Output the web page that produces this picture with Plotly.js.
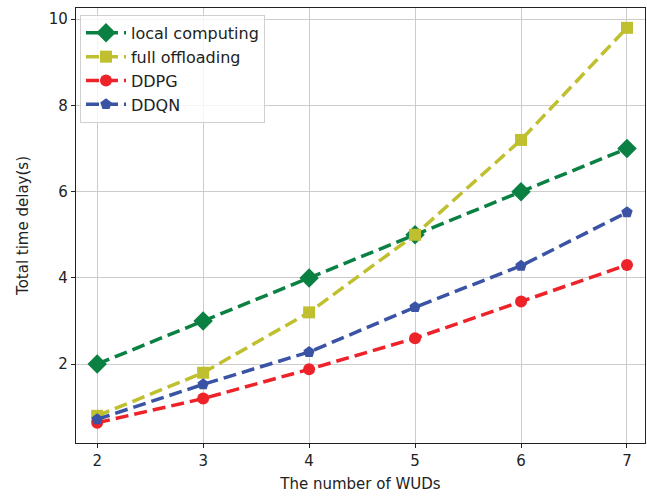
<!DOCTYPE html>
<html><head><meta charset="utf-8">
<script src="https://cdn.plot.ly/plotly-3.0.1.min.js"></script>
<style>body{margin:0;background:#fff}#c{width:647px;height:496px}</style>
</head><body><div id="c"></div>
<script>
const wuds = [2, 3, 4, 5, 6, 7];
const localComputing = [2.0, 3.0, 4.0, 5.0, 6.0, 7.0];
const fullOffloading = [0.8, 1.8, 3.2, 5.0, 7.2, 9.8];
const ddpg = [0.64, 1.2, 1.88, 2.6, 3.45, 4.3];
const ddqn = [0.72, 1.53, 2.28, 3.32, 4.28, 5.52];
const seriesNames = ['local computing', 'full offloading', 'DDPG', 'DDQN'];

function tr(y, name, color, symbol, msize) {
  return {x: wuds, y: y, name: name, mode: 'lines+markers', type: 'scatter',
    line: {color: color, width: 3.5, dash: '13px,6px'},
    marker: {color: color, symbol: symbol, size: msize}};
}
const data = [
  tr(localComputing, seriesNames[0], '#0b8043', 'diamond', 15),
  tr(fullOffloading, seriesNames[1], '#bfbf2f', 'square', 12),
  tr(ddpg, seriesNames[2], '#ee2229', 'circle', 12),
  tr(ddqn, seriesNames[3], '#3a53a4', 'pentagon', 12)
];
const axisCommon = {showline: true, mirror: true, linecolor: '#222', linewidth: 1.2,
  ticks: 'outside', ticklen: 4, tickcolor: '#222', gridcolor: '#cccccc', gridwidth: 1.3,
  zeroline: false, tickfont: {size: 15, color: '#222'}};
const layout = {
  width: 647, height: 496,
  margin: {l: 76, r: 2, t: 8, b: 53},
  paper_bgcolor: '#fff', plot_bgcolor: '#fff',
  font: {family: 'DejaVu Sans', color: '#222'},
  showlegend: true,
  legend: {x: 0.007, y: 0.984, xanchor: 'left', yanchor: 'top', bgcolor: 'rgba(255,255,255,0.8)',
    bordercolor: '#d0d0d0', borderwidth: 1, font: {size: 16, color: '#222'}, tracegroupgap: 0,
    itemwidth: 40},
  xaxis: Object.assign({}, axisCommon, {range: [1.8, 7.17], tickvals: wuds,
    title: {text: 'The number of WUDs', font: {size: 15}, standoff: 9}}),
  yaxis: Object.assign({}, axisCommon, {range: [0.17, 10.26], tickvals: [2, 4, 6, 8, 10],
    title: {text: 'Total time delay(s)', font: {size: 15}, standoff: 16}})
};
Plotly.newPlot('c', data, layout, {displayModeBar: false});
</script></body></html>
